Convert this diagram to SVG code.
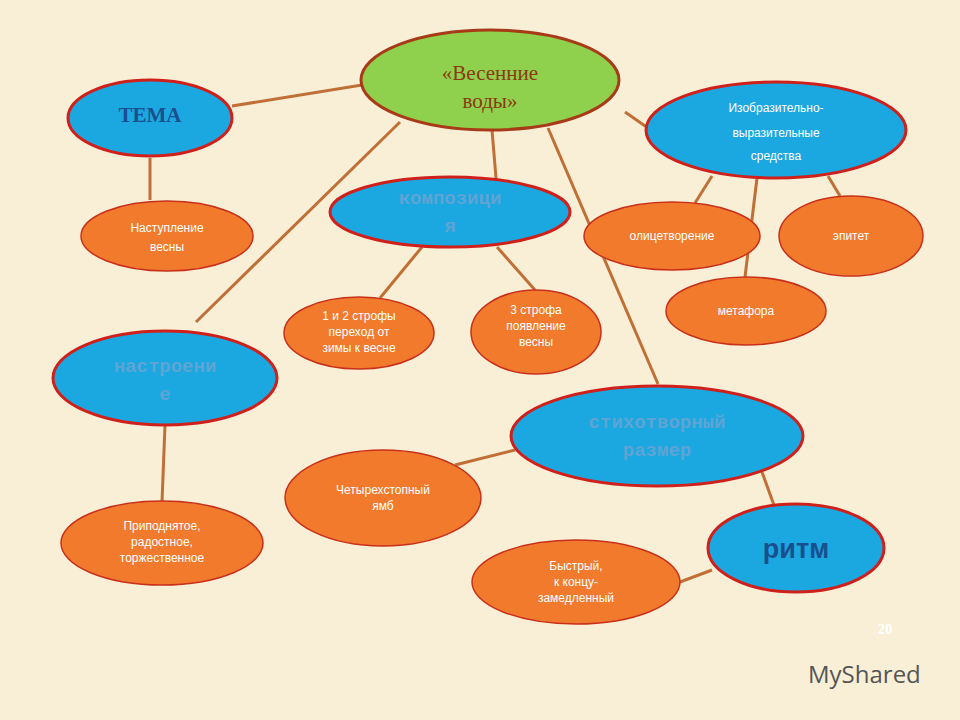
<svg xmlns="http://www.w3.org/2000/svg" width="960" height="720" viewBox="0 0 960 720">
<style>
.b{fill:#1ba8e0;stroke:#d0201c;stroke-width:3}
.o{fill:#f27a2c;stroke:#c8301c;stroke-width:1.5}
.w{font-family:"Liberation Sans",sans-serif;font-size:12px;fill:#fff;text-anchor:middle}
.bt{font-family:"Liberation Mono",monospace;font-size:19px;font-weight:bold;fill:#5fa4d4;text-anchor:middle}
.c line{stroke:#c07036;stroke-width:3}
</style>
<rect width="960" height="720" fill="#f8efd6"/>
<g class="c">
<line x1="232" y1="106" x2="362" y2="85"/>
<line x1="150" y1="158" x2="150" y2="200"/>
<line x1="400" y1="122" x2="196" y2="322"/>
<line x1="492" y1="130" x2="496" y2="178"/>
<line x1="548" y1="128" x2="658" y2="384"/>
<line x1="625" y1="112" x2="648" y2="128"/>
<line x1="422" y1="247" x2="380" y2="298"/>
<line x1="497" y1="247" x2="535" y2="290"/>
<line x1="712" y1="176" x2="695" y2="203"/>
<line x1="757" y1="178" x2="745" y2="277"/>
<line x1="828" y1="176" x2="840" y2="196"/>
<line x1="165" y1="425" x2="162" y2="502"/>
<line x1="515" y1="450" x2="455" y2="465"/>
<line x1="762" y1="472" x2="775" y2="508"/>
<line x1="680" y1="582" x2="712" y2="570"/>
</g>
<g id="center"><ellipse cx="490" cy="80" rx="129" ry="50" fill="#8fd14c" stroke="#a83a18" stroke-width="3"/>
<text x="490" y="80" font-family="Liberation Serif,serif" font-size="21" fill="#8b3a10" text-anchor="middle">«Весенние</text>
<text x="490" y="108" font-family="Liberation Serif,serif" font-size="21" fill="#8b3a10" text-anchor="middle">воды»</text></g>
<g id="tema"><ellipse class="b" cx="150" cy="118" rx="82" ry="38"/>
<text x="150" y="122" font-family="Liberation Serif,serif" font-size="21" font-weight="bold" fill="#1a4f8f" text-anchor="middle">ТЕМА</text></g>
<g id="nastuplenie"><ellipse class="o" cx="167" cy="236" rx="86" ry="35"/>
<text class="w" x="167" y="232" font-size="13">Наступление</text><text class="w" x="167" y="251" font-size="13">весны</text></g>
<g id="kompoziciya"><ellipse class="b" cx="450" cy="212" rx="120" ry="35"/>
<text class="bt" x="450" y="204">композици</text><text class="bt" x="450" y="232">я</text></g>
<g id="izobr"><ellipse class="b" cx="776" cy="130" rx="130" ry="48"/>
<text class="w" x="776" y="112" font-size="14">Изобразительно-</text><text class="w" x="776" y="137" font-size="14">выразительные</text><text class="w" x="776" y="160" font-size="14">средства</text></g>
<g id="olic"><ellipse class="o" cx="672" cy="236" rx="88" ry="34"/><text class="w" x="672" y="240" font-size="11">олицетворение</text></g>
<g id="epitet"><ellipse class="o" cx="851" cy="236" rx="72" ry="40"/><text class="w" x="851" y="240" font-size="11">эпитет</text></g>
<g id="metafora"><ellipse class="o" cx="746" cy="311" rx="80" ry="34"/><text class="w" x="746" y="315" font-size="11">метафора</text></g>
<g id="strofy12"><ellipse class="o" cx="359" cy="333" rx="75" ry="36"/>
<text class="w" x="359" y="320" font-size="11">1 и 2 строфы</text><text class="w" x="359" y="336" font-size="11">переход от</text><text class="w" x="359" y="352" font-size="11">зимы к весне</text></g>
<g id="strofa3"><ellipse class="o" cx="536" cy="332" rx="65" ry="42"/>
<text class="w" x="536" y="314" font-size="11">3 строфа</text><text class="w" x="536" y="330" font-size="11">появление</text><text class="w" x="536" y="346" font-size="11">весны</text></g>
<g id="nastroenie"><ellipse class="b" cx="165" cy="378" rx="112" ry="47"/>
<text class="bt" x="165" y="372">настроени</text><text class="bt" x="165" y="400">е</text></g>
<g id="razmer"><ellipse class="b" cx="657" cy="436" rx="146" ry="50"/>
<text class="bt" x="657" y="428" font-weight="normal" fill="#8fc4e4">стихотворный</text><text class="bt" x="657" y="456" font-weight="normal" fill="#8fc4e4">размер</text></g>
<g id="yamb"><ellipse class="o" cx="383" cy="498" rx="98" ry="48"/>
<text class="w" x="383" y="494" font-size="11">Четырехстопный</text><text class="w" x="383" y="510" font-size="11">ямб</text></g>
<g id="pripodn"><ellipse class="o" cx="162" cy="543" rx="101" ry="42"/>
<text class="w" x="162" y="530" font-size="11">Приподнятое,</text><text class="w" x="162" y="546" font-size="11">радостное,</text><text class="w" x="162" y="562" font-size="11">торжественное</text></g>
<g id="ritm"><ellipse class="b" cx="796" cy="548" rx="88" ry="44"/>
<text x="796" y="558" font-family="Liberation Sans,sans-serif" font-size="27" font-weight="bold" fill="#1a4f8f" text-anchor="middle">ритм</text></g>
<g id="bystry"><ellipse class="o" cx="576" cy="582" rx="104" ry="42"/>
<text class="w" x="576" y="570" font-size="11">Быстрый,</text><text class="w" x="576" y="586" font-size="11">к концу-</text><text class="w" x="576" y="602" font-size="11">замедленный</text></g>
<text x="885" y="634" font-family="Liberation Serif,serif" font-size="15" font-weight="bold" fill="#fff" text-anchor="middle">20</text>
<text x="808" y="683" font-family="Open Sans,sans-serif" font-size="24" fill="#555" >MyShared</text>
</svg>
